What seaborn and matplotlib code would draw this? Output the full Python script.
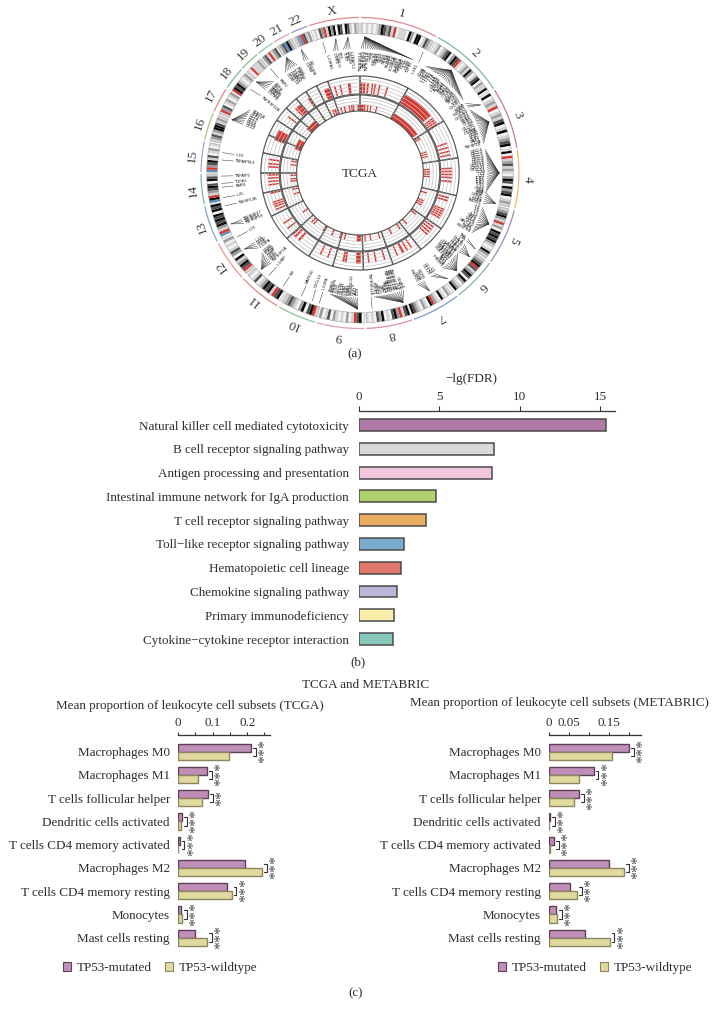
import numpy as np
import pandas as pd
import matplotlib
matplotlib.use('Agg')
import matplotlib.pyplot as plt
from matplotlib.patches import Patch
import seaborn as sns

W, H = 716, 1019

# ----- panel (a): circos -----
chrom_names = ['1', '2', '3', '4', '5', '6', '7', '8', '9', '10', '11', '12', '13', '14',
               '15', '16', '17', '18', '19', '20', '21', '22', 'X']
# chromosome boundaries, degrees clockwise from the top
chrom_edges = [0, 29, 57.5, 81, 103.5, 125, 142, 160.5, 178, 196, 211, 227.5, 243.5, 258,
               270, 282, 293, 303, 312, 320, 327, 334, 341, 360]
arc_colors = ['#e08a90', '#7fb894', '#c9769a', '#f0b868', '#a884b8', '#7fb894', '#7f97c8', '#d9909a',
              '#e0a0b8', '#8cc4a0', '#e08a80', '#e89a80', '#80a8c8', '#78b8b0', '#a8a0c8', '#a8c880',
              '#e08a80', '#70b8a8', '#88c090', '#88c8b0', '#e0a0b0', '#a090c8', '#e08a90']
# one letter per stretch of chromosome: w white, l light, g grey, d dark, k black, r red, b blue
chrom_bands = ['lwlwlwlgkdgdlrwlllwkgwkkwldgl', 'wlgwlgdkwgkdrlwlglkgwldkwgllkw', 'kwlglrwlgldkwlkwlgdkw',
               'kwrlgdlglwgkdwkgdkwlgl', 'lgdkglrlgwkdkdkglwlkgl', 'lgdkrdlgkdwkgwlgk',
               'wlgwlkwlgrkwlgwlgdk', 'kdlrgkdwlwkgdwlwl', 'wkdrlwgwlwlgwdlwg', 'lrkdwkgwlgdgl',
               'wkdrlkdkglwdlwl', 'lrdkglkwgdlwlwg', 'wbrlgkdkdkwkdk', 'bkrlgdkdwkdl', 'brgdkldwlgwl',
               'lgdlgkkdlgl', 'lrgdwlgwlg', 'rkdkglwlg', 'lwrlllgl', 'gdlrlgd', 'lgdbkgl', 'lgbrdlg',
               'wlwdgrlkgkwkdwkdlwgl']
band_colors = {'w': '#f2f2f2', 'l': '#d2d2d2', 'g': '#9c9c9c', 'd': '#505050', 'k': '#0a0a0a',
               'r': '#d8352f', 'b': '#5b8fc0'}

outer_red_deg = [0.8, 2.7, 5, 7.9, 9.6, 12.5, 17.5, 40, 52.5, 54, 55.5, 57, 70.7, 73.5, 76, 78.4,
                 87, 89, 91, 93, 95.5, 106, 108, 114, 115.5, 117, 118.5, 120, 127, 129, 131, 133,
                 146, 149, 152, 156, 164.4, 170, 174.5, 181, 189, 190.5, 200.5, 205.5, 221.7, 225,
                 227, 232, 236, 246, 248, 249.5, 251, 257, 262.4, 264.5, 266.7, 268.7, 274, 276, 278.7,
                 295, 308.8, 315.6, 318, 326, 338.7, 344, 347.5, 353.2]
outer_red_wid = [1.7, 1.4, 1.2, 1, 1, 1, 1, 21, 1, 1, 1, 1, 1, 1, 1, 1,
                 1.1, 1.1, 1.1, 1.1, 1.1, 1.1, 1.1, 1, 1, 1, 1, 1, 1.1, 1.1, 1.1, 1.1,
                 1, 1, 1.6, 1, 1, 1, 1, 3, 1.2, 1.2, 1, 1, 1.4, 1.4,
                 1, 1, 1, 1, 1, 1, 1, 1, 1, 1, 1, 1, 1.1, 1.1, 1.1,
                 7, 1, 1, 3, 1.1, 3.5, 1, 1, 1.8]
inner_red_deg = [0.9, 2.4, 4, 6.5, 9, 14, 42, 58.5, 60, 72, 74, 76, 87, 89, 91, 93, 107, 114, 116, 118,
                 125, 127, 138, 145, 153, 163.5, 171, 175.6, 181, 193, 197, 204, 212, 221.7, 224,
                 235, 252, 256, 263, 265, 268, 277, 280, 295, 315, 327, 337, 339, 344, 347, 351, 353,
                 354.5, 358.5]
inner_red_wid = [1.8, 1.4, 1.2, 1.1, 1.1, 1.1, 27, 1.1, 1.1, 1.1, 1.1, 1.1, 1.2, 1.2, 1.2, 1.2, 1.3, 1.2, 1.3, 1.2,
                 1.3, 1.3, 1.3, 1.3, 1.3, 1.1, 1.1, 1.1, 3.5, 1.2, 1.2, 1.3, 1.3, 1.3, 1.3,
                 1.3, 1.2, 1.2, 1.2, 1.2, 1.2, 1.2, 1.2, 9, 10, 1.3, 1.3, 1.6, 1.2, 1.4, 1.2, 1.2,
                 1.2, 1.4]

# leader fans: where the genes sit, where their labels start, and the labels
fan_apex = [2, 27, 41, 60, 68, 90, 103, 112, 124, 128, 136, 141, 150, 162, 175, 181, 197, 200, 205,
            213.6, 221, 225, 236, 242, 248, 256, 259.6, 264, 265.6, 268.7, 275.5, 278.6, 293, 308,
            312, 320, 328, 335, 344.5, 350, 355]
fan_start = [0.5, 27.5, 31, 56, 59.5, 79, 99, 106, 122, 125, 130, 144, 150, 160, 175, 181, 197, 200.5, 205,
             213.6, 221, 224, 233, 242, 246, 256, 259.6, 264, 265.6, 268.7, 275.5, 278.6, 293, 308.5,
             312, 320, 324, 334, 344.5, 348, 352.5]
fan_genes = ['TNFRSF14 TNFRSF9 TNFRSF8 TNFRSF1B CD52 IFI6 IFNLR1 CSF3R MTF2 CD53 CSF1 NRAS IL6R S100A8 CD1D '
             'FCER1A CD48 SLAMF1 FCGR2A PTPRC CD55 IL10 CD46 TGFB2',
             'IL1R1',
             'CD8A CD8B IL1RL1 IL18R1 IL1R2 IL1A IL1B IL1RN CXCR4 IL18RAP ACVR1 ITGA4 STAT1 STAT4 CD28 CTLA4 '
             'ICOS CCL20 BMPR2 SP110 IL37 TLR5 CXCR1',
             'IL5RA CRBN TGFBR2',
             'CCR4 CX3CR1 CCR8 CCR2 CCR5 CCR3 LTF CXCR6 CCRL2 IL17RB CD86 CD80 CD47 TLR9 RAF1 IL12A TNFSF10',
             'CXCL1 CXCL2 CXCL3 CXCL5 CXCL6 CXCL8 CXCL9 CXCL10 CXCL11 CXCL13 CCNI IL2 IL21 TLR1 TLR6 TLR2 '
             'TLR3 IL15 CD14 KDR',
             'IL7R LIFR OSMR IL6ST IL31RA PIK3R1',
             'IL3 IL4 IL5 IL9 IL13 CSF2 IRF1 CD14 CD74 HAVCR2 ITK TNIP1 PDGFRB',
             'TNF LTA', 'HLA-A HLA-B HLA-C HLA-E HLA-G',
             'HLA-DRA HLA-DRB1 HLA-DQA1 HLA-DQB1 HLA-DPA1 HLA-DPB1 TAP1 TAP2 IL17A IFNGR1',
             'IL6 CCL24 CCL26', 'EGFR CD36 HGF PIK3CG',
             'IL7 CEBPD LYN TNFRSF10A TNFRSF10B TNFRSF10C TNFRSF10D DEFB1 SFRP1 PLAT MYC PTK2 RIPK2 FGFR1',
             'TNFRSF11B',
             'IL33 JAK2 CD274 PDCD1LG2 IFNB1 IFNA1 IFNA2 CCL21 CCL19 CD72 TLR4 TNFSF8 TRAF1',
             'IL15RA', 'CXCL12', 'MAPK10', 'SIX', 'IL18BP',
             'TNFRSF1A CD27 CD4 LTBR IL23A STAT6 CD69', 'IL10RA CD3E CD3D IL18', 'IL21',
             'TNFRSF19 TNFSF11 TNFRSF17', 'TNFSF13B', 'IL25', 'BMP4', 'TGFB3', 'TNFAIP2', 'TNFAIP8L3', 'IL16',
             'CCL2 CCL3 CCL4 CCL5 CCL7 CCL8 STAT3 STAT5B', 'TNFRSF11A',
             'IL17RD SMAD4 SMAD2 CD226 BCL2 TCF4', 'BMP2', 'CD40 CXCL12 IFNAR1 IFNAR2 IL10RB IFNGR2 CD93',
             'IL2RB CSF2RB LIF', 'IL13RA1', 'IL2RG CD40LG BTK', 'TLR7 TLR8 CXCR3 IL1RAPL1']
fan_step = 1.05

# ----- panel (b) -----
pathways = ['Natural killer cell mediated cytotoxicity', 'B cell receptor signaling pathway',
            'Antigen processing and presentation', 'Intestinal immune network for IgA production',
            'T cell receptor signaling pathway', 'Toll\u2212like receptor signaling pathway',
            'Hematopoietic cell lineage', 'Chemokine signaling pathway', 'Primary immunodeficiency',
            'Cytokine\u2212cytokine receptor interaction']
fdr_values = [15.4, 8.4, 8.3, 4.8, 4.15, 2.8, 2.6, 2.35, 2.2, 2.1]
pathway_colors = ['#b07aa9', '#d9d9d9', '#f2c6dc', '#add06a', '#eeae62', '#7aabcc', '#e2776b',
                  '#bbb6d8', '#f8eeaa', '#86c8b9']

# ----- panel (c) -----
cell_types = ['Macrophages M0', 'Macrophages M1', 'T cells follicular helper', 'Dendritic cells activated',
              'T cells CD4 memory activated', 'Macrophages M2', 'T cells CD4 memory resting', 'Monocytes',
              'Mast cells resting']
tcga_mut = [0.212, 0.085, 0.0875, 0.0125, 0.005, 0.195, 0.141, 0.008, 0.048]
tcga_wt = [0.147, 0.058, 0.070, 0.0087, 0.001, 0.243, 0.156, 0.013, 0.085]
tcga_stars = [3, 3, 2, 3, 3, 3, 3, 3, 3]
metabric_mut = [0.200, 0.112, 0.076, 0.003, 0.013, 0.151, 0.053, 0.018, 0.091]
metabric_wt = [0.158, 0.075, 0.0625, 0.001, 0.003, 0.188, 0.070, 0.021, 0.152]
metabric_stars = [3, 3, 3, 3, 3, 3, 3, 3, 3]
mut_color, wt_color = '#c08fb8', '#e0da9e'
mut_edge, wt_edge = '#5e3f58', '#8c8660'

sns.set_theme(style='white')
plt.rcParams['font.family'] = ['Liberation Serif', 'DejaVu Serif']
TEXT = '#2e2e2e'
LABEL_SIZE = 9.45

fig = plt.figure(figsize=(W / 100, H / 100), dpi=100, facecolor='white')


def px_axes(left, top, width, height, **kw):
    return fig.add_axes([left / W, 1 - (top + height) / H, width / W, height / H], **kw)


def fig_text(x, y, s, **kw):
    kw.setdefault('ha', 'center')
    kw.setdefault('va', 'center')
    kw.setdefault('fontsize', LABEL_SIZE)
    kw.setdefault('color', TEXT)
    fig.text(x / W, 1 - y / H, s, **kw)


# circos, one data unit of radius is one pixel; the wheel is a little wider than tall in the reference
cx, cy, rmax = 360, 173, 190
stretch = 1.022
pol = px_axes(cx - rmax * stretch, cy - rmax, 2 * rmax * stretch, 2 * rmax, projection='polar')
pol.set_aspect('auto')
pol.set_theta_zero_location('N')
pol.set_theta_direction(-1)
pol.set_rlim(0, rmax)
pol.axis('off')
pol.patch.set_alpha(0)

gap = 0.7
for i, name in enumerate(chrom_names):
    start, end = chrom_edges[i] + gap / 2, chrom_edges[i + 1] - gap / 2
    mid = (start + end) / 2
    arc = np.radians(np.linspace(start, end, 40))
    pol.plot(arc, np.full(40, 155.5), color=arc_colors[i], lw=0.9, solid_capstyle='butt')
    pol.text(np.radians(mid), 164.5, name, rotation=-mid, rotation_mode='anchor', ha='center', va='center',
             fontsize=9.5, color='#3a3a3a')
    # ideogram
    bands = chrom_bands[i]
    w = (end - start) / len(bands)
    for j, b in enumerate(bands):
        pol.bar(np.radians(start + (j + 0.5) * w), 10.5, width=np.radians(w), bottom=139.5,
                color=band_colors[b], lw=0)
    pol.bar(np.radians(mid), 10.5, width=np.radians(end - start), bottom=139.5, fill=False,
            edgecolor='#999999', lw=0.35)
    # two data tracks
    for r0, r1, n in [(79, 97, 4), (62, 78, 4)]:
        for r in np.linspace(r0, r1, n + 2)[1:-1]:
            pol.plot(arc, np.full(40, r), color='#c4c4c4', lw=0.55)

pol.bar(np.radians(outer_red_deg), 10.5, width=np.radians(outer_red_wid), bottom=80, color='#d8352f', lw=0)
pol.bar(np.radians(inner_red_deg), 6.5, width=np.radians(inner_red_wid), bottom=62, color='#d8352f', lw=0)

for i in range(len(chrom_names)):
    start, end = chrom_edges[i], chrom_edges[i + 1]
    for r0, r1 in [(79, 97), (62, 78)]:
        pol.bar(np.radians((start + end) / 2), r1 - r0, width=np.radians(end - start), bottom=r0, fill=False,
                edgecolor='#5c5c5c', lw=0.9)

for apex, first, genes in zip(fan_apex, fan_start, fan_genes):
    for k, gene in enumerate(genes.split()):
        th = first + k * fan_step
        pol.plot(np.radians([apex, th]), [136, 124.5], color='#333333', lw=0.35)
        right = th < 180
        pol.text(np.radians(th), 122.5, gene, rotation=90 - th if right else 270 - th, rotation_mode='anchor',
                 ha='right' if right else 'left', va='center', fontsize=2.8, family='Liberation Sans',
                 color='#111111')

fig_text(cx, 174, 'TCGA', fontsize=9.5)
fig_text(355, 354, '(a)')

# pathway bars
ax_b = px_axes(359, 411, 256, 240)
df_b = pd.DataFrame({'pathway': pathways, 'fdr': fdr_values})
sns.barplot(data=df_b, y='pathway', x='fdr', hue='pathway', order=pathways, hue_order=pathways,
            palette=pathway_colors, dodge=False, width=0.5, saturation=1, edgecolor='#4a4a4a', linewidth=1.1,
            legend=False, ax=ax_b)
ax_b.set_xlim(0, 15.93)
ax_b.set_ylim(9.5, -0.59)
ax_b.set_xticks([0, 5, 10, 15])


def style_axis(ax, ticklen, ypad):
    ax.xaxis.set_ticks_position('top')
    ax.xaxis.set_label_position('top')
    for side in ['left', 'right', 'bottom']:
        ax.spines[side].set_visible(False)
    ax.spines['top'].set_color('#333333')
    ax.spines['top'].set_linewidth(0.9)
    ax.patch.set_alpha(0)
    ax.tick_params(axis='x', direction='out', length=ticklen, width=0.8, color='#333333', labelsize=LABEL_SIZE,
                   labelcolor=TEXT, pad=2, top=True)
    ax.tick_params(axis='y', length=0, labelsize=LABEL_SIZE, labelcolor=TEXT, pad=ypad)
    ax.set_ylabel('')
    ax.set_xlabel('')


style_axis(ax_b, 3.5, 7.2)
fig_text(471, 379, '\u2212lg(FDR)')
fig_text(358, 662, '(b)')


# mean proportion panels
def mean_panel(left, width, xmax, ticks, ticklabels, mut, wt, stars):
    ax = px_axes(left, 735, width, 215)
    df = pd.DataFrame({'cell': cell_types * 2,
                       'value': list(mut) + list(wt),
                       'group': ['TP53-mutated'] * 9 + ['TP53-wildtype'] * 9})
    sns.barplot(data=df, y='cell', x='value', hue='group', order=cell_types, palette=[mut_color, wt_color],
                width=0.7, gap=0, saturation=1, legend=False, ax=ax)
    for container, edge in zip(ax.containers, [mut_edge, wt_edge]):
        for bar in container:
            bar.set_edgecolor(edge)
            bar.set_linewidth(1.0)
    ax.set_xlim(0, xmax)
    ax.set_ylim(8.53, -0.72)
    ax.set_xticks(ticks)
    ax.set_xticklabels(ticklabels)
    style_axis(ax, 2.5, 5.8)
    px = xmax / width
    for i in range(9):
        end = max(mut[i], wt[i])
        bx0, bx1 = end + 2 * px, end + 4.5 * px
        ax.plot([bx0, bx1, bx1, bx0], [i - 0.18, i - 0.18, i + 0.18, i + 0.18], color='#333333', lw=0.8,
                clip_on=False)
        ax.text(end + 14 * px, i - 0.03, '*' * stars[i], rotation=90, ha='center', va='center', fontsize=11.5,
                color='#4a4a4a', clip_on=False)
    return ax


mean_panel(178, 92, 0.266, [0, 0.05, 0.1, 0.15, 0.2, 0.25], ['0', '', '0.1', '', '0.2', ''],
           tcga_mut, tcga_wt, tcga_stars)
mean_panel(549, 92, 0.23, [0, 0.05, 0.1, 0.15, 0.2], ['0', '0.05', '', '0.15', ''],
           metabric_mut, metabric_wt, metabric_stars)

fig_text(366, 685, 'TCGA and METABRIC')
fig_text(190, 706, 'Mean proportion of leukocyte cell subsets (TCGA)')
fig_text(410, 703, 'Mean proportion of leukocyte cell subsets (METABRIC)', ha='left')
fig_text(356, 993, '(c)')

handles = [Patch(facecolor=mut_color, edgecolor=mut_edge, lw=0.8),
           Patch(facecolor=wt_color, edgecolor=wt_edge, lw=0.8)]
for x in [160, 595]:
    fig.legend(handles=handles, labels=['TP53-mutated', 'TP53-wildtype'], ncol=2, frameon=False, loc='center',
               bbox_to_anchor=(x / W, 1 - 968 / H), fontsize=LABEL_SIZE, labelcolor=TEXT, handlelength=0.6,
               handleheight=0.6, handletextpad=0.45, columnspacing=1.0)

fig.savefig('out.png', dpi=100)
